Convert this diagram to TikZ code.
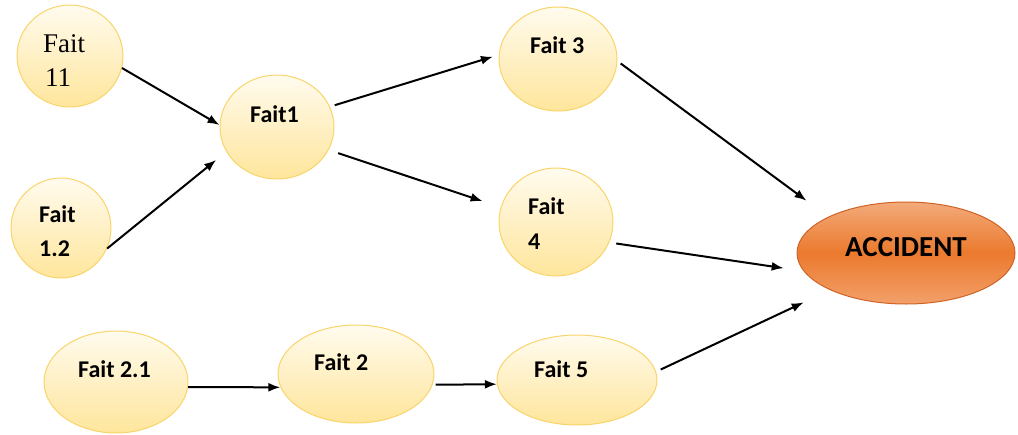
\documentclass[tikz,border=0pt]{standalone}
\usepackage{fontspec}
\setmainfont{Carlito}
\newfontfamily\serifface{Liberation Serif}
\usetikzlibrary{shapes.geometric,arrows.meta}

\definecolor{faitTop}{HTML}{FFFBEE}
\definecolor{faitBot}{HTML}{FFE69C}
\definecolor{faitLine}{HTML}{F8D46A}
\definecolor{accTop}{HTML}{F3AA7A}
\definecolor{accMid}{HTML}{EB7A2E}
\definecolor{accBot}{HTML}{F2A06A}
\definecolor{accLine}{HTML}{CF6325}

\tikzset{
  fait/.style={ellipse, draw=faitLine, line width=1pt, top color=faitTop,
    bottom color=faitBot, inner sep=0pt},
  accident/.style={ellipse, draw=accLine, line width=1pt, top color=accTop,
    bottom color=accBot, middle color=accMid, inner sep=0pt},
  lbl/.style={anchor=base west, inner sep=0pt, font=\fontsize{24}{28}\selectfont\bfseries},
  seriflbl/.style={anchor=base west, inner sep=0pt, font=\fontsize{27}{30}\serifface},
  acclbl/.style={anchor=base west, inner sep=0pt, font=\fontsize{29}{33}\selectfont\bfseries},
  link/.style={-{Latex[length=12pt,width=9pt]}, line width=2pt, black}
}

\begin{document}
\begin{tikzpicture}[x=1pt,y=-1pt]
\useasboundingbox (0,0) rectangle (1018,434);

% event ellipses
\node[fait, minimum width=106pt, minimum height=102pt] (f11) at (70,56) {};
\node[fait, minimum width=100pt, minimum height=100pt] (f12) at (61,228) {};
\node[fait, minimum width=114pt, minimum height=104pt] (f1) at (277,127) {};
\node[fait, minimum width=118pt, minimum height=104pt] (f3) at (558,59) {};
\node[fait, minimum width=114pt, minimum height=108pt] (f4) at (556,222) {};
\node[fait, minimum width=144pt, minimum height=102pt] (f21) at (116,382) {};
\node[fait, minimum width=156pt, minimum height=98pt] (f2) at (356,374) {};
\node[fait, minimum width=160pt, minimum height=90pt] (f5) at (577,380) {};
\node[accident, minimum width=218pt, minimum height=102pt] (acc) at (906,253) {};

% labels
\node[seriflbl] (t11a) at (43,52) {Fait};
\node[seriflbl] (t11b) at (45,86) {11};
\node[lbl] (t12a) at (39,222) {Fait};
\node[lbl] (t12b) at (39,256) {1.2};
\node[lbl] (t1) at (250,122) {Fait1};
\node[lbl] (t3) at (530,53) {Fait 3};
\node[lbl] (t4a) at (528,214) {Fait};
\node[lbl] (t4b) at (528,249) {4};
\node[lbl] (t21) at (78,377) {Fait 2.1};
\node[lbl] (t2) at (314,370) {Fait 2};
\node[lbl] (t5) at (534,377) {Fait 5};
\node[acclbl] (tacc) at (845,256) {ACCIDENT};

% causal links
\draw[link] (f11.-13) -- (f1.178);
\draw[link, shorten >=13pt] (f12.-24) -- (f1.206.6);
\draw[link, shorten <=5pt, shorten >=6pt] (f1.21) -- (f3.176);
\draw[link, shorten <=10pt, shorten >=19pt] (f1.-24) -- (f4.165);
\draw[link, shorten <=4pt, shorten >=27pt] (f3.-2.7) -- (acc.155.5);
\draw[link, shorten <=7pt, shorten >=20pt] (f4.-21) -- (acc.190.8);
\draw[link, shorten <=5pt, shorten >=29pt] (f5.6) -- (acc.206.3);
\draw[link] (f21.-4) -- (f2.190);
\draw[link, shorten <=3pt] (f2.-8) -- (f5.183.5);
\end{tikzpicture}
\end{document}
